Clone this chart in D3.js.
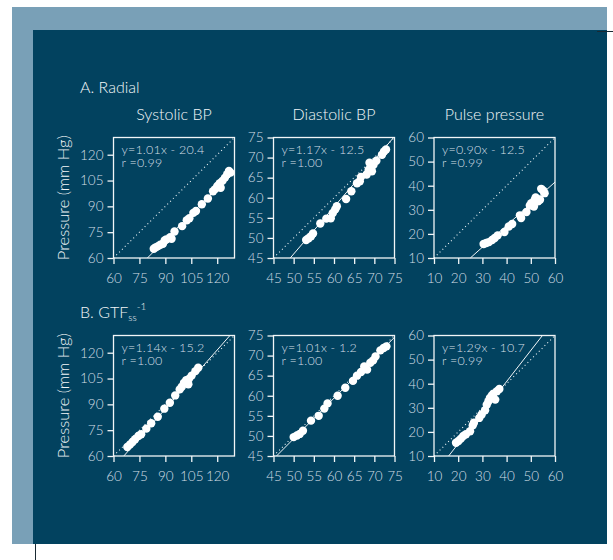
<!DOCTYPE html>
<html><head><meta charset="utf-8">
<script src="https://cdn.jsdelivr.net/npm/d3@7"></script>
<style>
body{margin:0;background:#fff}
svg{display:block}
text{font-family:Lato,"Open Sans",sans-serif;font-weight:300}
</style>
</head><body>
<svg id="chart" width="613" height="560"></svg>
<script>
// ---- data ----
const rowLabels = ["A. Radial", "B. GTF"];
const colTitles = ["Systolic BP", "Diastolic BP", "Pulse pressure"];
const axisDomains = [[60, 130], [45, 75], [10, 60]];
const tickValues = [[60, 75, 90, 105, 120], [45, 50, 55, 60, 65, 70, 75], [10, 20, 30, 40, 50, 60]];
const equationText = [
  ["y=1.01x - 20.4", "y=1.17x - 12.5", "y=0.90x - 12.5"],
  ["y=1.14x - 15.2", "y=1.01x - 1.2", "y=1.29x - 10.7"]
];
const rText = [["r =0.99", "r =1.00", "r =0.99"], ["r =1.00", "r =1.00", "r =0.99"]];
const slopes = [[1.01, 1.17, 0.90], [1.14, 1.01, 1.29]];
const intercepts = [[-20.4, -12.5, -12.5], [-15.2, -1.2, -10.7]];

const radialSystolic = [[83.3,65.4],[84.4,66.2],[85.8,66.9],[87.1,67.7],[88.6,68.3],[89.6,70.2],[90.5,70.8],[92.8,72.1],[93.6,71.2],[95.3,75.4],[99.7,78.5],[102.4,81.9],[103.9,83.1],[106.2,86.2],[107.7,87.3],[111.1,91.2],[114.6,94.6],[117.6,98.8],[118.8,100],[120.1,101.9],[121.5,103.5],[122,100.8],[123,104.8],[124.5,106.7],[125.8,108.7],[126.8,110.6],[127.7,109.6]];
const radialDiastolic = [[53.1,49.5],[53.7,49.9],[54.3,50.4],[54.8,51.1],[56.6,53.6],[58.1,54.8],[59.2,54.9],[59.7,56.2],[60.3,57.1],[60.7,57.9],[63.0,59.7],[64.3,61.6],[65.7,63.6],[66.4,64.1],[66.7,65.2],[68.1,65.8],[68.6,67.0],[69.1,67.6],[69.8,68.2],[70.5,69.2],[69.4,66.6],[68.8,68.7],[71.9,70.7],[72.4,71.5],[72.9,72.0]];
const radialPulse = [[30.5,15.8],[31.6,16.2],[32.7,16.6],[34.0,17.5],[35.1,18.3],[36.3,19.4],[39.1,20.8],[40.9,23.1],[42.3,24.1],[45.5,27.7],[46.0,26.6],[48.2,29.1],[49.6,31.8],[50.2,32.7],[51.3,31.4],[52.0,35.1],[53.0,33.5],[53.8,34.2],[54.3,38.7],[55.2,37.9],[55.7,36.9],[51.6,34.1]];
const gtfSystolic = [[68,65.2],[69.5,66.6],[71.0,68.1],[72.5,69.7],[74.4,71.6],[76.0,72.6],[79.0,75.9],[81.8,79.0],[85.6,82.8],[89.4,87.5],[92.6,90.9],[95.7,95.2],[98.3,98.7],[99.5,100.2],[100.8,102.5],[102.1,104.1],[103.6,104.8],[105.2,106.7],[107.4,109.3],[109.0,111.3],[103.3,101.7]];
const gtfDiastolic = [[50.0,49.7],[50.8,50.1],[51.5,50.5],[52.3,51.3],[54.3,53.8],[56.2,55.0],[57.6,56.8],[58.4,58.1],[60.9,60.0],[62.8,62.0],[64.7,63.7],[65.7,65.0],[66.7,65.9],[67.5,67.3],[68.2,66.5],[69.0,68.2],[69.7,68.8],[70.3,69.8],[71.5,71.3],[72.3,71.9],[73.0,72.3]];
const gtfPulse = [[19.1,15.5],[20.1,16.2],[21.1,17.2],[22.1,18.3],[23.2,19.0],[24.9,20.3],[26.0,22.7],[26.5,23.8],[28.7,25.8],[29.7,27.2],[31.1,29.0],[31.8,31.3],[32.5,32.7],[33.1,34.1],[33.9,35.1],[34.6,35.9],[36.0,36.9],[37.0,37.8],[35.3,33.4]];
const panelData = [[radialSystolic, radialDiastolic, radialPulse], [gtfSystolic, gtfDiastolic, gtfPulse]];

// ---- layout ----
const svg = d3.select("#chart");
const bgDark = "#02425f", bgLight = "#79a0b7";
const fg = "#f2f6f8", tickCol = "#d4dfe6";

svg.append("rect").attr("x", 12).attr("y", 7).attr("width", 595).attr("height", 537).attr("fill", bgLight);
svg.append("rect").attr("x", 33).attr("y", 30).attr("width", 574).attr("height", 514).attr("fill", bgDark);
svg.append("line").attr("x1", 597).attr("x2", 613).attr("y1", 31.5).attr("y2", 31.5).attr("stroke", "#1a2a33").attr("stroke-width", 1);
svg.append("line").attr("x1", 35.5).attr("x2", 35.5).attr("y1", 544).attr("y2", 560).attr("stroke", "#1a2a33").attr("stroke-width", 1);

const colX = [113.5, 273.5, 434];
const rowY = [137.5, 335.5];
const W = 121, H = 120.5;

// row labels
svg.append("text").attr("x", 80).attr("y", 92.5).attr("fill", fg).attr("font-size", 16).text(rowLabels[0]);
const b = svg.append("text").attr("x", 80).attr("y", 318).attr("fill", fg).attr("font-size", 16);
b.append("tspan").text(rowLabels[1]);
b.append("tspan").attr("font-size", 10).attr("dy", 3).text("ss");
b.append("tspan").attr("font-size", 10).attr("dy", -11).text("-1");

// column titles
colTitles.forEach((t, i) => {
  svg.append("text").attr("x", colX[i] + W / 2).attr("y", 120).attr("text-anchor", "middle")
    .attr("fill", fg).attr("font-size", 16).text(t);
});

rowY.forEach((top, r) => {
  // y axis label
  svg.append("text").attr("transform", `translate(69,${top + H / 2}) rotate(-90)`)
    .attr("text-anchor", "middle").attr("fill", fg).attr("font-size", 16.5).text("Pressure (mm Hg)");

  colX.forEach((left, c) => {
    const dom = axisDomains[c];
    const x = d3.scaleLinear().domain(dom).range([left, left + W]);
    const y = d3.scaleLinear().domain(dom).range([top + H, top]);
    const g = svg.append("g");

    // axes
    const xa = g.append("g").attr("transform", `translate(0,${top + H})`)
      .call(d3.axisBottom(x).tickValues(tickValues[c]).tickSize(6).tickPadding(9));
    const ya = g.append("g").attr("transform", `translate(${left},0)`)
      .call(d3.axisLeft(y).tickValues(tickValues[c]).tickSize(6).tickPadding(4));
    [xa, ya].forEach(a => {
      a.select(".domain").remove();
      a.selectAll(".tick line").attr("stroke", fg).attr("stroke-width", 1.3);
      a.selectAll(".tick text").attr("fill", tickCol).attr("font-size", 13.5)
        .style("font-family", "Lato, 'Open Sans', sans-serif").style("font-weight", 300);
    });

    // frame
    g.append("rect").attr("x", left).attr("y", top).attr("width", W).attr("height", H)
      .attr("fill", "none").attr("stroke", fg).attr("stroke-width", 1.3);

    // identity line (dotted)
    g.append("line").attr("x1", x(dom[0])).attr("y1", y(dom[0])).attr("x2", x(dom[1])).attr("y2", y(dom[1]))
      .attr("stroke", fg).attr("stroke-width", 1.1).attr("stroke-dasharray", "1,3");

    // regression line
    const m = slopes[r][c], k = intercepts[r][c];
    const x0 = Math.max(dom[0], (dom[0] - k) / m);
    const x1 = Math.min(dom[1], (dom[1] - k) / m);
    g.append("line").attr("x1", x(x0)).attr("y1", y(m * x0 + k)).attr("x2", x(x1)).attr("y2", y(m * x1 + k))
      .attr("stroke", fg).attr("stroke-width", 1);

    // points
    g.selectAll("circle.pt").data(panelData[r][c]).enter().append("circle")
      .attr("class", "pt").attr("cx", d => x(d[0])).attr("cy", d => y(d[1])).attr("r", 4.2)
      .attr("fill", "#ffffff");

    // equation
    g.append("text").attr("x", left + 8).attr("y", top + 16).attr("fill", tickCol).attr("font-size", 12.5)
      .attr("letter-spacing", 0.2).text(equationText[r][c]);
    g.append("text").attr("x", left + 8).attr("y", top + 29.5).attr("fill", tickCol).attr("font-size", 12.5)
      .attr("letter-spacing", 0.2).text(rText[r][c]);
  });
});
</script>
</body></html>
